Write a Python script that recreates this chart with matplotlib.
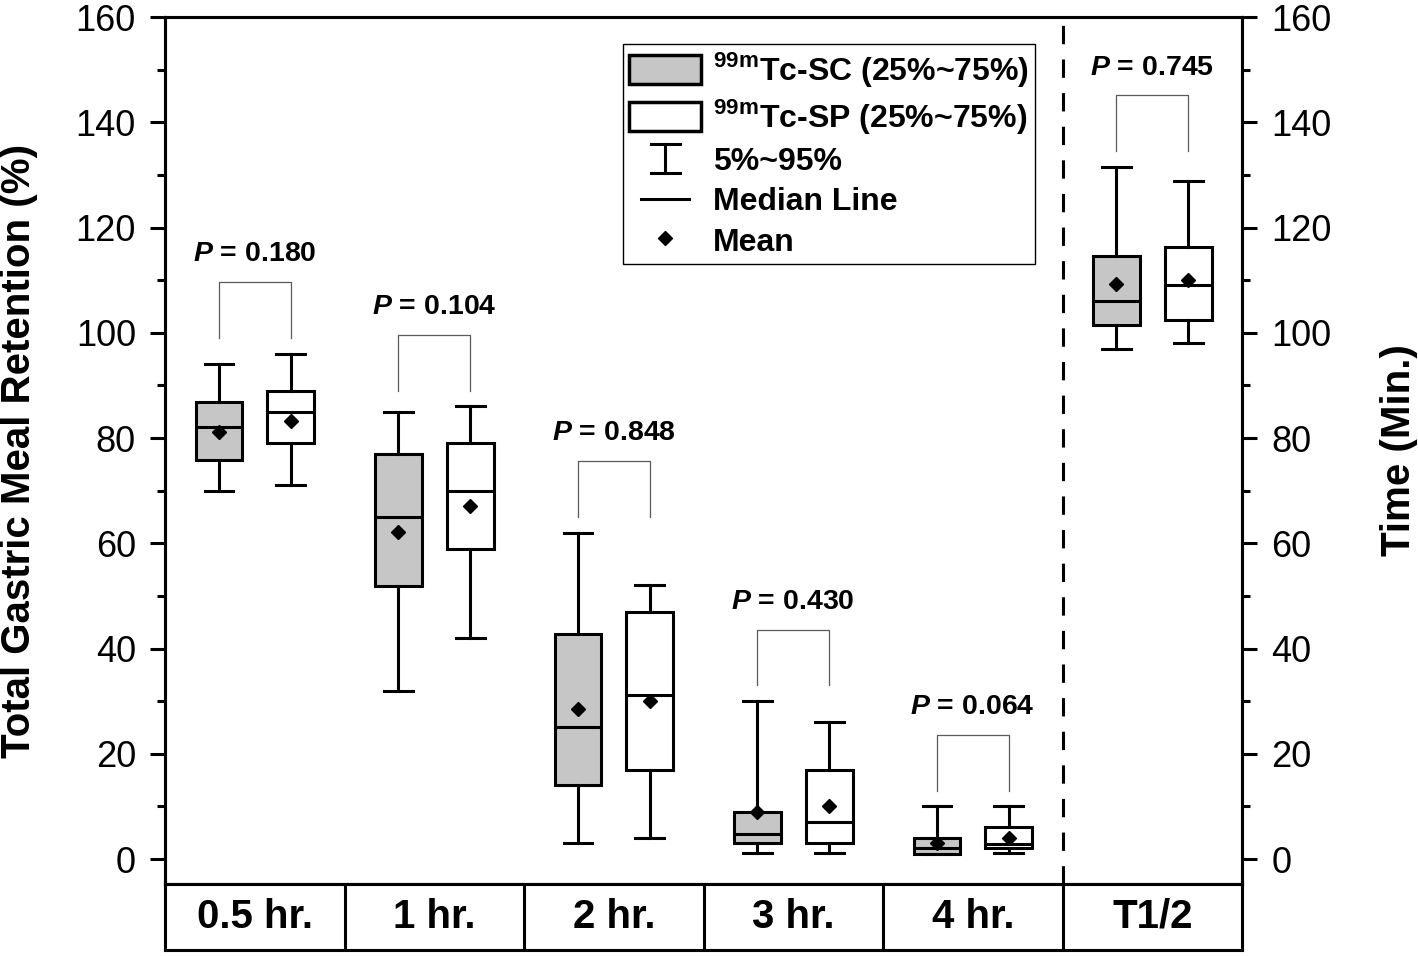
import matplotlib.pyplot as plt
from matplotlib.patches import Patch
from matplotlib.lines import Line2D
from matplotlib.legend_handler import HandlerBase
from matplotlib.ticker import MultipleLocator

plt.rcParams['font.family'] = ['Liberation Sans', 'DejaVu Sans']
plt.rcParams['mathtext.fontset'] = 'custom'
plt.rcParams['mathtext.rm'] = 'Liberation Sans'
plt.rcParams['mathtext.bf'] = 'Liberation Sans:bold'
plt.rcParams['mathtext.bfit'] = 'Liberation Sans:italic:bold'

# 구간 이름
groups = ["0.5 hr.", "1 hr.", "2 hr.", "3 hr.", "4 hr.", "T1/2"]

# 99mTc-SC : 5%, 25%, median, 75%, 95%, mean
sc_p5 = [70, 32, 3, 1.1, 1.0, 97]
sc_q1 = [75.8, 51.9, 14.1, 3.0, 1.0, 101.5]
sc_med = [82, 65, 25, 4.8, 2.0, 106]
sc_q3 = [86.8, 77, 42.8, 9.0, 4.0, 114.5]
sc_p95 = [94, 85, 62, 30, 10, 131.5]
sc_mean = [81.1, 62.2, 28.6, 9.0, 3.0, 109.3]

# 99mTc-SP
sp_p5 = [71, 42, 4, 1.1, 1.1, 98]
sp_q1 = [79, 59, 17, 3.0, 2.0, 102.5]
sp_med = [85, 70, 31.2, 7.0, 2.8, 109]
sp_q3 = [89, 79, 47, 17, 6.0, 116.3]
sp_p95 = [96, 86, 52, 26, 10, 128.8]
sp_mean = [83.2, 67, 30, 10.1, 4.0, 110.1]

p_values = ["0.180", "0.104", "0.848", "0.430", "0.064", "0.745"]

LW = 2.2
GRAY = '#c6c6c6'


def make_stats(p5, q1, med, q3, p95, mean):
    return [dict(whislo=a, q1=b, med=c, q3=d, whishi=e, mean=f, fliers=[])
            for a, b, c, d, e, f in zip(p5, q1, med, q3, p95, mean)]


class SymbolHandler(HandlerBase):
    def __init__(self, kind):
        super().__init__()
        self.kind = kind

    def create_artists(self, legend, orig_handle, xdescent, ydescent,
                       width, height, fontsize, trans):
        x0, y0 = -xdescent, -ydescent
        cx = x0 + width / 2
        if self.kind == 'I':
            cw = width * 0.2
            lines = [Line2D([cx, cx], [y0, y0 + height]),
                     Line2D([cx - cw, cx + cw], [y0 + height, y0 + height]),
                     Line2D([cx - cw, cx + cw], [y0, y0])]
        else:
            inset = width * 0.17
            lines = [Line2D([x0 + inset, x0 + width - inset], [y0 + height / 2] * 2)]
        for ln in lines:
            ln.set_color('k')
            ln.set_linewidth(LW)
            ln.set_transform(trans)
        return lines


fig = plt.figure(figsize=(14.18, 9.56), dpi=100)
ax = fig.add_axes([0.1164, 0.0753, 0.7595, 0.9069])
band = fig.add_axes([0.1164, 0.0063, 0.7595, 0.069])

n = len(groups)
pos = list(range(n))
sc_pos = [i + 0.3 for i in pos]
sp_pos = [i + 0.7 for i in pos]

common = dict(widths=0.26, capwidths=0.16, showmeans=True, patch_artist=True,
              manage_ticks=False,
              whiskerprops=dict(color='k', lw=LW),
              capprops=dict(color='k', lw=LW),
              medianprops=dict(color='k', lw=LW),
              meanprops=dict(marker='D', markerfacecolor='k', markeredgecolor='k',
                             markersize=7))
ax.bxp(make_stats(sc_p5, sc_q1, sc_med, sc_q3, sc_p95, sc_mean), positions=sc_pos,
       boxprops=dict(facecolor=GRAY, edgecolor='k', lw=LW), **common)
ax.bxp(make_stats(sp_p5, sp_q1, sp_med, sp_q3, sp_p95, sp_mean), positions=sp_pos,
       boxprops=dict(facecolor='white', edgecolor='k', lw=LW), **common)

# P 값 브래킷
for i in pos:
    base = max(sc_p95[i], sp_p95[i]) + 3
    top = base + 10.6
    ax.plot([sc_pos[i], sc_pos[i], sp_pos[i], sp_pos[i]], [base, top, top, base],
            color='#5a5a5a', lw=0.9)
    ax.text(i + 0.5, top + 5.3, r"$\mathbfit{P}$ = " + p_values[i],
            ha='center', va='center', fontsize=20.5, fontweight='bold')

ax.axvline(5, color='k', lw=LW, ls=(0, (6, 5)))

ax.set_xlim(0, n)
ax.set_ylim(-4.75, 160)
ax.set_xticks([])
ax.yaxis.set_major_locator(MultipleLocator(20))
ax.yaxis.set_minor_locator(MultipleLocator(10))
ax.tick_params(axis='y', which='major', length=11, width=LW, labelsize=26, pad=10)
ax.tick_params(axis='y', which='minor', length=5.5, width=LW)
for s in ax.spines.values():
    s.set_linewidth(LW)
ax.set_ylabel("Total Gastric Meal Retention (%)", fontsize=29, fontweight='bold')
ax.yaxis.set_label_coords(-0.118, 0.5)

axr = ax.twinx()
axr.set_ylim(ax.get_ylim())
axr.yaxis.set_major_locator(MultipleLocator(20))
axr.yaxis.set_minor_locator(MultipleLocator(10))
axr.tick_params(axis='y', which='major', length=11, width=LW, labelsize=26, pad=10)
axr.tick_params(axis='y', which='minor', length=5.5, width=LW)
for s in axr.spines.values():
    s.set_linewidth(LW)
axr.set_ylabel("Time (Min.)", fontsize=29, fontweight='bold')
axr.yaxis.set_label_coords(1.128, 0.5)

# 범례
i_handle = Line2D([], [])
med_handle = Line2D([], [])
handles = [Patch(facecolor=GRAY, edgecolor='k', lw=2.5),
           Patch(facecolor='white', edgecolor='k', lw=2.5),
           i_handle, med_handle,
           Line2D([], [], marker='D', ls='none', color='k', markersize=7)]
labels = [r"$^{\mathbf{99m}}$Tc-SC (25%~75%)",
          r"$^{\mathbf{99m}}$Tc-SP (25%~75%)",
          "5%~95%", "Median Line", "Mean"]
leg = axr.legend(handles, labels, loc='upper left', bbox_to_anchor=(0.425, 0.969),
                 handler_map={i_handle: SymbolHandler('I'),
                              med_handle: SymbolHandler('-')},
                 prop=dict(size=23, weight='bold'), fancybox=False,
                 edgecolor='k', framealpha=1, numpoints=1,
                 handlelength=2.26, handleheight=1.03, handletextpad=0.36,
                 labelspacing=0.25, borderpad=0.2, borderaxespad=0)
leg.get_frame().set_linewidth(1.0)

# 범주 띠
band.set_xlim(0, n)
band.set_ylim(0, 1)
band.set_xticks([])
band.set_yticks([])
for s in band.spines.values():
    s.set_linewidth(LW)
for i in range(1, n):
    band.axvline(i, color='k', lw=LW)
for i, g in enumerate(groups):
    band.text(i + 0.5, 0.5, g, ha='center', va='center', fontsize=29, fontweight='bold')

fig.savefig("out.png", dpi=100)
